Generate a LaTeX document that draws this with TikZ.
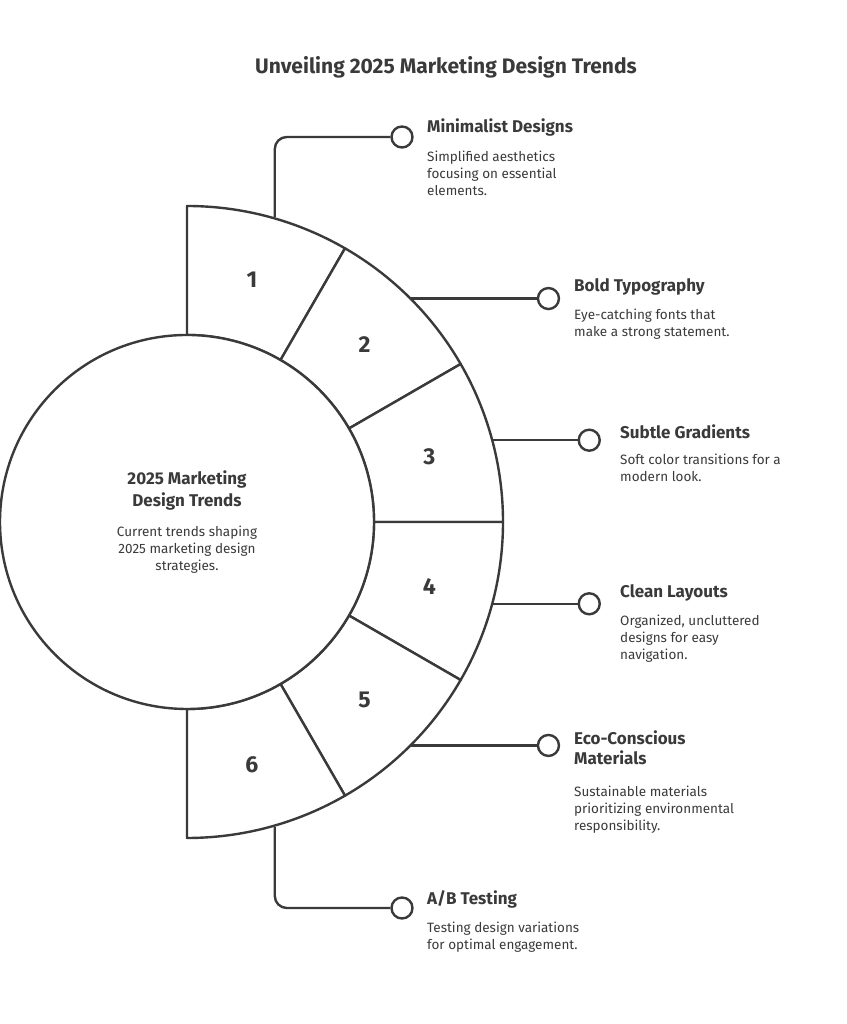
\documentclass[tikz,border=0pt]{standalone}
\usepackage{fontspec}
\setmainfont{Fira Sans}
\usetikzlibrary{positioning, calc}
\definecolor{ink}{HTML}{3A3A3A}

\begin{document}
\begin{tikzpicture}[
    x=1pt, y=1pt,
    ink/.style={draw=ink, line width=2.4pt},
    segment/.style={ink, fill=white, line join=round},
    num/.style={font=\fontsize{23}{23}\selectfont\bfseries, text=ink},
    dot/.style={circle, ink, fill=white, minimum size=21pt, inner sep=0pt},
    link/.style={ink, rounded corners=12pt},
    headline/.style={anchor=north west, inner sep=0pt, align=left, text=ink, font=\fontsize{17}{20}\selectfont\bfseries},
    blurb/.style={anchor=north west, inner sep=0pt, align=left, text=ink, font=\fontsize{13.5}{17}\selectfont}
  ]
    \useasboundingbox (0,0) rectangle (846,1024);
    \node[text=ink, font=\fontsize{21}{21}\selectfont\bfseries] (title) at (446,957) {Unveiling 2025 Marketing Design Trends};

    % ring of six segments around the hub
    \begin{scope}[shift={(187,502)}]
      \foreach \n/\a in {1/90, 2/60, 3/30, 4/0, 5/-30, 6/-60} {
        \pgfmathsetmacro{\b}{\a-30}
        \pgfmathsetmacro{\m}{\a-15}
        \draw[segment] (\a:187) -- (\a:316) arc[start angle=\a, end angle=\b, radius=316]
          -- (\b:187) arc[start angle=\b, end angle=\a, radius=187] -- cycle;
        \node[num] (n\n) at (\m:251) {\n};
        \coordinate (s\n) at (\m:316);
      }
      \draw[ink, fill=white] (0,0) circle[radius=187];
      \node (hub) at (0,0) {};
    \end{scope}

    \node[text=ink, align=center, font=\fontsize{17}{22}\selectfont\bfseries] (hubtitle) at (187,533) {2025 Marketing\\Design Trends};
    \node[text=ink, align=center, font=\fontsize{13.5}{17}\selectfont] (hubtext) at (187,474) {Current trends shaping\\2025 marketing design\\strategies.};

    % dots and connectors
    \node[dot] (d1) at (402,887) {};
    \node[dot] (d6) at (402,116) {};
    \path (s2) ++(138,0) node[dot] (d2) {};
    \path (s3) ++(97,0) node[dot] (d3) {};
    \path (s4) ++(97,0) node[dot] (d4) {};
    \path (s5) ++(138,0) node[dot] (d5) {};

    \draw[link] ([xshift=6pt]s1) |- (d1);
    \draw[link] ([xshift=6pt]s6) |- (d6);
    \foreach \n in {2,3,4,5} \draw[ink] (s\n) -- (d\n);

    % labels
    \node[headline] (h1) at (427,905) {Minimalist Designs};
    \node[blurb, below=14pt of h1.south west, anchor=north west] (t1) {Simplified aesthetics\\focusing on essential\\elements.};
    \node[headline] (h2) at (574,746) {Bold Typography};
    \node[blurb, below=14pt of h2.south west, anchor=north west] (t2) {Eye-catching fonts that\\make a strong statement.};
    \node[headline] (h3) at (620,599) {Subtle Gradients};
    \node[blurb, below=14pt of h3.south west, anchor=north west] (t3) {Soft color transitions for a\\modern look.};
    \node[headline] (h4) at (620,440) {Clean Layouts};
    \node[blurb, below=14pt of h4.south west, anchor=north west] (t4) {Organized, uncluttered\\designs for easy\\navigation.};
    \node[headline] (h5) at (574,293) {Eco-Conscious\\Materials};
    \node[blurb, below=20pt of h5.south west, anchor=north west] (t5) {Sustainable materials\\prioritizing environmental\\responsibility.};
    \node[headline] (h6) at (427,134) {A/B Testing};
    \node[blurb, below=14pt of h6.south west, anchor=north west] (t6) {Testing design variations\\for optimal engagement.};
\end{tikzpicture}
\end{document}
